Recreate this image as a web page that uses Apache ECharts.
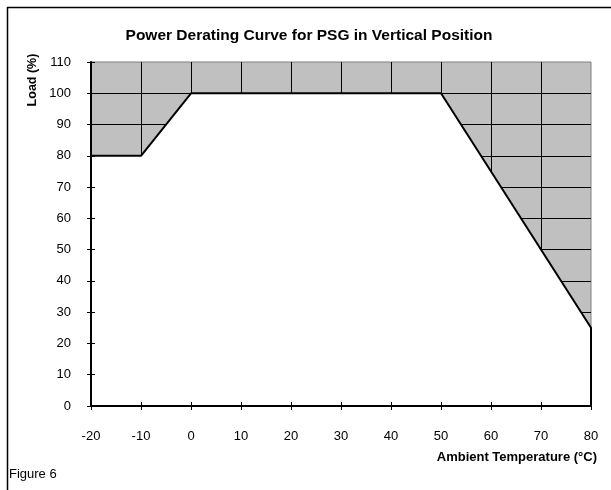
<!DOCTYPE html>
<html>
<head>
<meta charset="UTF-8" />
<title>Power Derating Curve</title>
<script src="https://cdn.jsdelivr.net/npm/echarts@6/dist/echarts.min.js"></script>
<style>
  html, body { margin: 0; padding: 0; background: #fff; }
  #main { width: 611px; height: 490px; }
</style>
</head>
<body>
<div id="main"></div>
<script type="text/javascript">
    // curve points: ambient temperature (°C) -> load (%)
    var temps = [-20, -10, 0, 50, 80, 80];
    var loads = [80, 80, 100, 100, 25, 0];

    // axis ranges
    var xMin = -20, xMax = 80, xStep = 10;
    var yMin = 0, yMax = 110, yStep = 10;

    var font = 'Arial, "Liberation Sans", sans-serif';

    var points = [];
    for (var i = 0; i < temps.length; i++) {
        points.push([temps[i], loads[i]]);
    }

    // three x axes / three y axes on one grid:
    // 0 = split lines (under the white area), 1 = line+outer ticks+labels, 2 = inner ticks
    function xAxisOf(kind) {
        var ax = {
            type: 'value', position: 'bottom', min: xMin, max: xMax, interval: xStep,
            axisLine: { show: false, onZero: false }, axisTick: { show: false },
            axisLabel: { show: false }, splitLine: { show: false }
        };
        if (kind === 0) {
            ax.z = 0;
            ax.splitLine = { show: true, showMinLine: false, showMaxLine: false,
                lineStyle: { color: '#000', width: 1 } };
        } else if (kind === 1) {
            ax.z = 5;
            ax.name = 'Ambient Temperature (°C)';
            ax.nameLocation = 'end';
            ax.nameGap = 0;
            ax.nameTextStyle = { fontFamily: font, fontSize: 13, fontWeight: 'bold', color: '#000',
                align: 'right', verticalAlign: 'top', padding: [45, -6, 0, 0] };
            ax.axisLine = { show: true, onZero: false, lineStyle: { color: '#000', width: 2 } };
            ax.axisTick = { show: true, inside: false, length: 4, lineStyle: { color: '#000', width: 1 } };
            ax.axisLabel = { show: true, margin: 24, fontFamily: font, fontSize: 13, color: '#000' };
        } else {
            ax.z = 5;
            ax.axisTick = { show: true, inside: true, length: 4, lineStyle: { color: '#000', width: 1 } };
        }
        return ax;
    }

    function yAxisOf(kind) {
        var ax = {
            type: 'value', position: 'left', min: yMin, max: yMax, interval: yStep,
            axisLine: { show: false, onZero: false }, axisTick: { show: false },
            axisLabel: { show: false }, splitLine: { show: false }
        };
        if (kind === 0) {
            ax.z = 0;
            ax.splitLine = { show: true, showMinLine: false, showMaxLine: false,
                lineStyle: { color: '#000', width: 1 } };
        } else if (kind === 1) {
            ax.z = 5;
            ax.axisLine = { show: true, onZero: false, lineStyle: { color: '#000', width: 2 } };
            ax.axisTick = { show: true, inside: false, length: 4, lineStyle: { color: '#000', width: 1 } };
            ax.axisLabel = { show: true, margin: 20, fontFamily: font, fontSize: 13, color: '#000' };
        } else {
            ax.z = 5;
            ax.axisTick = { show: true, inside: true, length: 4, lineStyle: { color: '#000', width: 1 } };
        }
        return ax;
    }

    var option = {
        backgroundColor: '#fff',
        animation: false,
        title: {
            text: 'Power Derating Curve for PSG in Vertical Position',
            left: 304, top: 23, textAlign: 'center',
            textStyle: { fontFamily: font, fontSize: 15.5, fontWeight: 'bold', color: '#000' }
        },
        grid: {
            left: 91, right: 20, top: 62, bottom: 84,
            show: true, backgroundColor: '#c0c0c0', borderColor: '#808080', borderWidth: 1
        },
        xAxis: [xAxisOf(0), xAxisOf(1), xAxisOf(2)],
        yAxis: [yAxisOf(0), yAxisOf(1), yAxisOf(2)],
        series: [{
            type: 'line',
            xAxisIndex: 0,
            yAxisIndex: 0,
            z: 2,
            data: points,
            symbol: 'none',
            lineStyle: { color: '#000', width: 2 },
            areaStyle: { color: '#fff', opacity: 1, origin: 'start' }
        }],
        graphic: [
            // outer frame (top and left edges)
            { type: 'line', shape: { x1: 7, y1: 7.5, x2: 611, y2: 7.5 },
              style: { stroke: '#000', lineWidth: 1.5 } },
            { type: 'line', shape: { x1: 7.5, y1: 7, x2: 7.5, y2: 490 },
              style: { stroke: '#000', lineWidth: 1.5 } },
            { type: 'text', x: 33, y: 80, rotation: Math.PI / 2,
              style: { text: 'Load (%)', fontFamily: font, fontSize: 12.5, fontWeight: 'bold',
                       fill: '#000', align: 'center', verticalAlign: 'middle' } },
            { type: 'text', x: 9, y: 474,
              style: { text: 'Figure 6', fontFamily: font, fontSize: 13, fill: '#000',
                       verticalAlign: 'middle' } }
        ]
    };

    var myChart = echarts.init(document.getElementById('main'));
    myChart.setOption(option);
</script>
</body>
</html>
